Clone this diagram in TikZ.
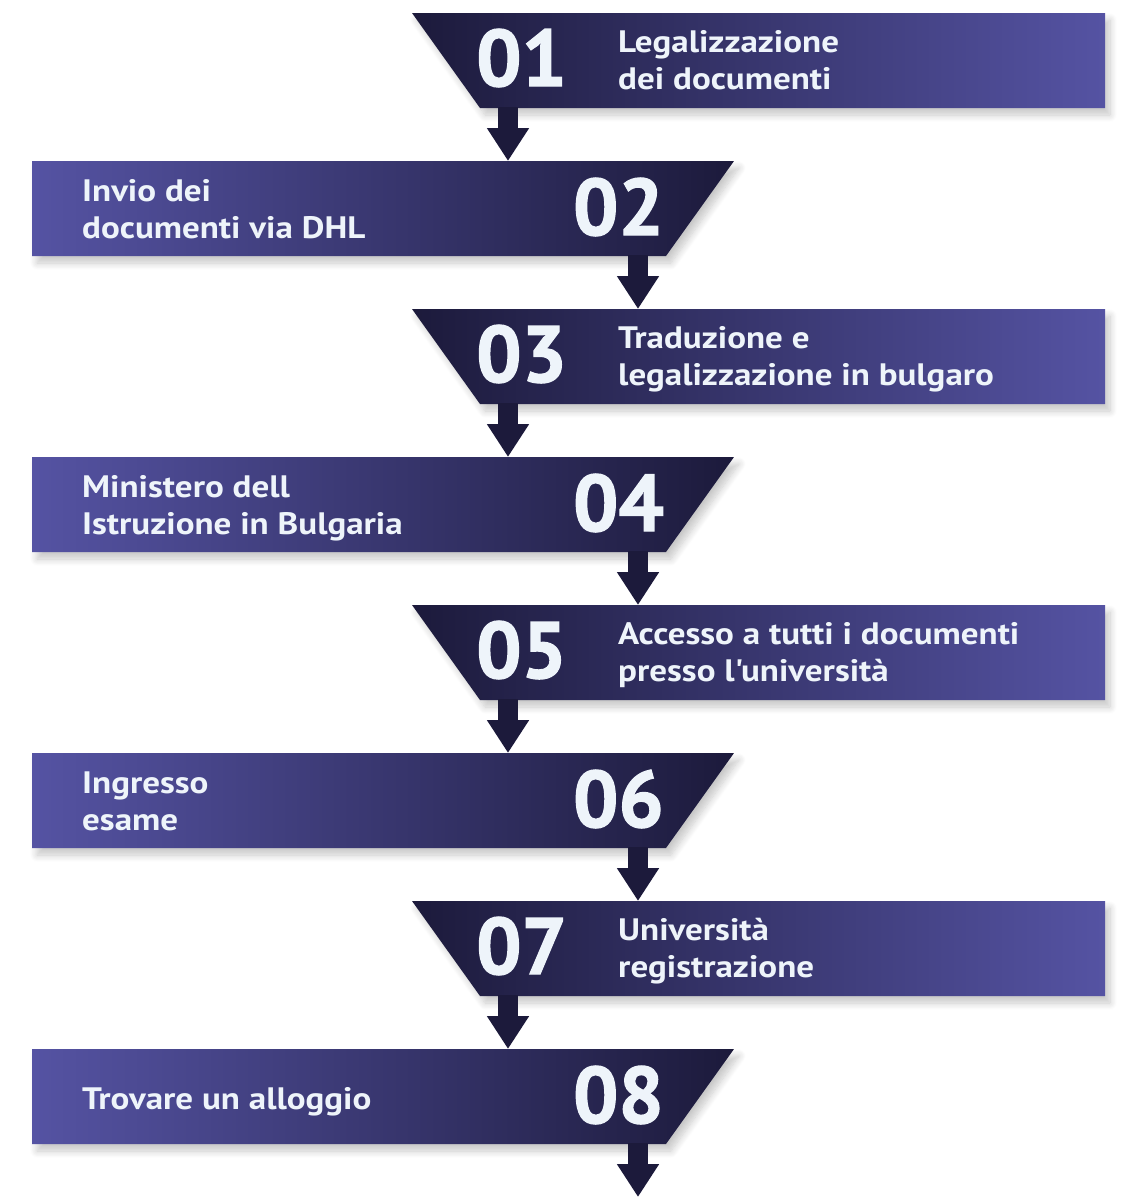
\documentclass[tikz,border=0pt]{standalone}
\usepackage{fontspec}
\setmainfont{PT Sans}
\newfontfamily\stepfont{PT Sans}[FakeStretch=1.13, Ligatures=TeXOff]
\newfontfamily\numfont{PT Sans}[FakeStretch=1.0, FakeBold=1.6]
\usetikzlibrary{shadows.blur,arrows.meta}
\definecolor{dk}{HTML}{1C1A3B}
\definecolor{pu}{HTML}{5553A3}
\definecolor{tx}{HTML}{EEF4FA}
\tikzset{
  bandshadow/.style={blur shadow={shadow xshift=5pt, shadow yshift=-7pt, shadow blur radius=7pt, shadow opacity=22, shadow blur steps=10}},
  oddband/.style={bandshadow, left color=dk, right color=pu},
  evenband/.style={bandshadow, left color=pu, right color=dk},
  flowarrow/.style={draw=dk, line width=20pt, -{Triangle[width=40pt,length=33pt]}},
  numtext/.style={text=tx, font=\numfont\fontsize{80}{80}\selectfont\bfseries, inner sep=0pt},
  steptext/.style={text=tx, font=\stepfont\fontsize{31}{37}\selectfont\bfseries, inner sep=0pt, anchor=base west},
}
% #1 index, #2 top y, #3 number, #4 line 1, #5 line 2
\newcommand\oddstep[5]{%
  \shade[oddband] (412,#2) -- (1105,#2) -- (1105,#2+95) -- (480,#2+95) -- cycle;
  \node[numtext, anchor=base west] (n#1) at (476,#2+73) {#3};
  \node[steptext] (ta#1) at (618,#2+39) {#4};
  \node[steptext] (tb#1) at (618,#2+76) {#5};
  \coordinate (in#1) at (508,#2);
  \coordinate (out#1) at (508,#2+94);
}
\newcommand\evenstep[5]{%
  \shade[evenband] (32,#2) -- (734,#2) -- (666,#2+95) -- (32,#2+95) -- cycle;
  \node[numtext, anchor=base east] (n#1) at (664,#2+74) {#3};
  \node[steptext] (ta#1) at (82,#2+40) {#4};
  \node[steptext] (tb#1) at (82,#2+77) {#5};
  \coordinate (in#1) at (638,#2);
  \coordinate (out#1) at (638,#2+94);
}
\begin{document}
\begin{tikzpicture}[x=1pt,y=-1pt]
\useasboundingbox (0,0) rectangle (1140,1200);
\oddstep{1}{13}{01}{Legalizzazione}{dei documenti}
\evenstep{2}{161}{02}{Invio dei}{documenti via DHL}
\oddstep{3}{309}{03}{Traduzione e}{legalizzazione in bulgaro}
\evenstep{4}{457}{04}{Ministero dell}{Istruzione in Bulgaria}
\oddstep{5}{605}{05}{Accesso a tutti i documenti}{presso l'università}
\evenstep{6}{753}{06}{Ingresso}{esame}
\oddstep{7}{901}{07}{Università}{registrazione}
\shade[evenband] (32,1049) -- (734,1049) -- (666,1144) -- (32,1144) -- cycle;
\node[numtext, anchor=base east] (n8) at (664,1049+74) {08};
\node[steptext] (ta8) at (82,1049+60) {Trovare un alloggio};
\coordinate (in8) at (638,1049);
\coordinate (out8) at (638,1143);
\coordinate (end) at (638,1197);
\draw[flowarrow] (out1) -- (out1 |- in2);
\draw[flowarrow] (out2) -- (out2 |- in3);
\draw[flowarrow] (out3) -- (out3 |- in4);
\draw[flowarrow] (out4) -- (out4 |- in5);
\draw[flowarrow] (out5) -- (out5 |- in6);
\draw[flowarrow] (out6) -- (out6 |- in7);
\draw[flowarrow] (out7) -- (out7 |- in8);
\draw[flowarrow] (out8) -- (end);
\end{tikzpicture}
\end{document}
